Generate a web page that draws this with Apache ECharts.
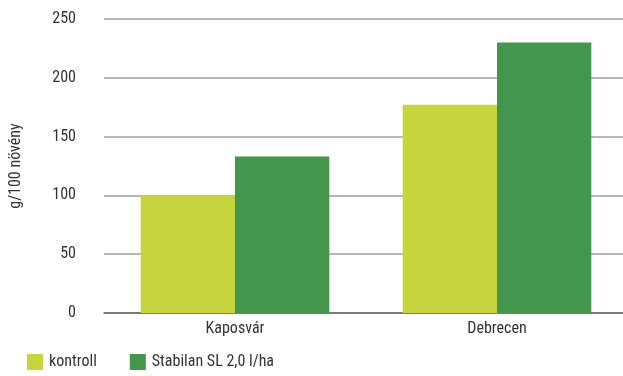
<!DOCTYPE html>
<html>
<head>
<meta charset="utf-8">
<style>
  html, body { margin: 0; padding: 0; background: #fff; }
  #chart { width: 623px; height: 376px; }
</style>
<script src="https://cdn.jsdelivr.net/npm/echarts@6/dist/echarts.min.js"></script>
</head>
<body>
<div id="chart"></div>
<script>
// Locations on the category axis
const categories = ['Kaposvár', 'Debrecen'];
// Yield per 100 plants (g)
const kontroll = [100, 177];
const stabilan = [133, 230];
const seriesNames = ['kontroll', 'Stabilan SL 2,0 l/ha'];

const FONT = '"Liberation Sans Narrow", "Roboto Condensed", "Liberation Sans", sans-serif';

const chart = echarts.init(document.getElementById('chart'), null, { renderer: 'canvas' });
chart.setOption({
  animation: false,
  textStyle: { fontFamily: FONT, color: '#333' },
  grid: {
    left: 104, top: 19, width: 524, bottom: 63,
    containLabel: false, outerBoundsMode: 'none'
  },
  legend: {
    left: 22, bottom: 1,
    itemWidth: 16, itemHeight: 16, itemGap: 33,
    icon: 'rect',
    textStyle: { fontFamily: FONT, fontSize: 16, color: '#333', padding: [0, 0, 0, 1] },
    data: seriesNames
  },
  xAxis: {
    type: 'category',
    data: categories,
    axisLine: { show: true, lineStyle: { color: '#666', width: 1.5 } },
    axisTick: { show: false },
    axisLabel: { fontFamily: FONT, fontSize: 16, color: '#333', margin: 8 }
  },
  yAxis: {
    type: 'value',
    min: 0, max: 250, interval: 50,
    name: 'g/100 növény',
    nameLocation: 'middle',
    nameGap: 80,
    nameTextStyle: { fontFamily: FONT, fontSize: 16, color: '#333' },
    axisLine: { show: false },
    axisTick: { show: false },
    axisLabel: { fontFamily: FONT, fontSize: 16, color: '#333', margin: 28 },
    splitLine: { lineStyle: { color: '#a0a0a0', width: 1.5 } }
  },
  series: [
    {
      name: seriesNames[0], type: 'bar', data: kontroll,
      itemStyle: { color: '#c6d43d' },
      barGap: '0%', barCategoryGap: '28%'
    },
    {
      name: seriesNames[1], type: 'bar', data: stabilan,
      itemStyle: { color: '#44964d' },
      barGap: '0%', barCategoryGap: '28%'
    }
  ]
});
</script>
</body>
</html>
